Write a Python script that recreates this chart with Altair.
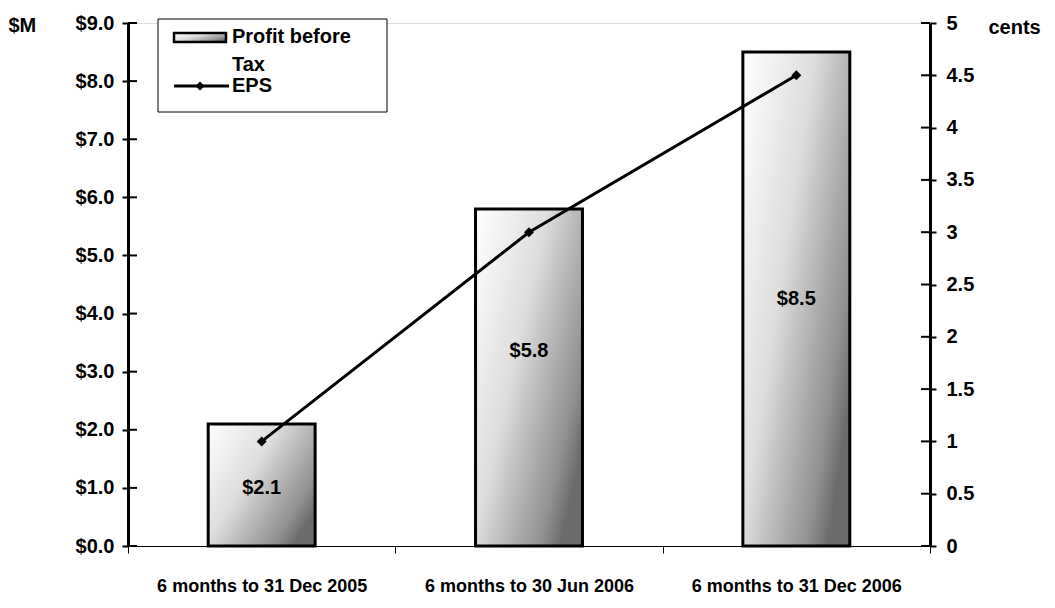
import altair as alt
import pandas as pd

categories = ["6 months to 31 Dec 2005", "6 months to 30 Jun 2006", "6 months to 31 Dec 2006"]
profit = [2.1, 5.8, 8.5]
eps = [1.0, 3.0, 4.5]
label_at = [1.0, 3.35, 4.25]
left_ticks = [0, 1, 2, 3, 4, 5, 6, 7, 8, 9]
right_ticks = [0, 0.5, 1, 1.5, 2, 2.5, 3, 3.5, 4, 4.5, 5]

df = pd.DataFrame({"period": categories, "profit": profit, "eps": eps, "label_at": label_at})
lt = pd.DataFrame({"v": left_ticks})
rt = pd.DataFrame({"v": right_ticks})
one = pd.DataFrame({"a": [0]})

W, H = 802, 523
FONT = "Liberation Sans"
FS = 20

grad = alt.LinearGradient(
    gradient="linear",
    stops=[
        alt.GradientStop(color="#ffffff", offset=0),
        alt.GradientStop(color="#dedede", offset=0.45),
        alt.GradientStop(color="#b5b5b5", offset=0.67),
        alt.GradientStop(color="#909090", offset=0.88),
        alt.GradientStop(color="#6c6c6c", offset=1),
    ],
    x1=0, y1=0, x2=1, y2=0.7,
)

xenc = alt.X(
    "period:N", sort=categories,
    scale=alt.Scale(paddingInner=0, paddingOuter=0),
    axis=alt.Axis(title=None, labelAngle=0, labelFont=FONT, labelFontSize=18, labelFontWeight="bold",
                  labelColor="black", labelPadding=24, labelBaseline="top", labelLimit=0,
                  domainColor="black", domainWidth=1, tickColor="black", tickWidth=1, tickSize=7,
                  tickBand="extent"),
)


def yleft(field):
    return alt.Y(
        field + ":Q", scale=alt.Scale(domain=[0, 9], nice=False, zero=True),
        axis=alt.Axis(values=left_ticks, format="$.1f", title="$M", titleAngle=0, titleX=-120, titleY=2,
                      titleAlign="left", titleBaseline="middle", titleFont=FONT, titleFontSize=FS,
                      titleFontWeight="bold", titleColor="black", labelFont=FONT, labelFontSize=FS,
                      labelFontWeight="bold", labelColor="black", labelPadding=8, domainColor="black",
                      domainWidth=3, tickColor="black", tickWidth=2, tickSize=6, grid=False),
    )


def yright(field):
    return alt.Y(
        field + ":Q", scale=alt.Scale(domain=[0, 5], nice=False, zero=True),
        axis=alt.Axis(values=right_ticks, format="~g", orient="right", title="cents", titleAngle=0,
                      titleX=58, titleY=4, titleAlign="left", titleBaseline="middle", titleFont=FONT,
                      titleFontSize=FS, titleFontWeight="bold", titleColor="black", labelFont=FONT,
                      labelFontSize=FS, labelFontWeight="bold", labelColor="black", labelPadding=10,
                      domainColor="black", domainWidth=3, tickColor="black", tickWidth=2, tickSize=6,
                      grid=False),
    )


bars = alt.Chart(df).mark_bar(fill=grad, stroke="black", strokeWidth=3,
                              width=alt.RelativeBandSize(0.4)).encode(x=xenc, y=yleft("profit"))
labels = alt.Chart(df).mark_text(font=FONT, fontSize=FS, fontWeight="bold", color="black", baseline="middle").encode(
    x=xenc, y=yleft("label_at"), text=alt.Text("profit:Q", format="$.1f"))
lin = alt.Chart(lt).mark_rule(color="black", strokeWidth=2).encode(y=yleft("v"), x=alt.value(0), x2=alt.value(9))
left = alt.layer(bars, labels, lin)

line = alt.Chart(df).mark_line(color="black", strokeWidth=3).encode(x=xenc, y=yright("eps"))
pts = alt.Chart(df).mark_point(shape="diamond", filled=True, color="black", size=100, opacity=1).encode(
    x=xenc, y=yright("eps"))
rin = alt.Chart(rt).mark_rule(color="black", strokeWidth=2).encode(y=yright("v"), x=alt.value(W - 9), x2=alt.value(W))
right = alt.layer(line, pts, rin)

base1 = alt.Chart(one)
box = base1.mark_rect(fill="white", stroke="black", strokeWidth=1).encode(
    x=alt.value(30), x2=alt.value(259), y=alt.value(-4), y2=alt.value(89))
swatch = base1.mark_rect(fill=grad, stroke="black", strokeWidth=2.5).encode(
    x=alt.value(46), x2=alt.value(98), y=alt.value(10), y2=alt.value(19))
t1 = base1.mark_text(text="Profit before", font=FONT, fontSize=FS, fontWeight="bold", color="black",
                     align="left", baseline="middle").encode(x=alt.value(104), y=alt.value(14))
t2 = base1.mark_text(text="Tax", font=FONT, fontSize=FS, fontWeight="bold", color="black",
                     align="left", baseline="middle").encode(x=alt.value(104), y=alt.value(42))
t3 = base1.mark_text(text="EPS", font=FONT, fontSize=FS, fontWeight="bold", color="black",
                     align="left", baseline="middle").encode(x=alt.value(104), y=alt.value(63))
lgline = base1.mark_rule(color="black", strokeWidth=3).encode(
    x=alt.value(46), x2=alt.value(101), y=alt.value(63))
lgpt = base1.mark_point(shape="diamond", filled=True, color="black", size=80, opacity=1).encode(
    x=alt.value(72), y=alt.value(63))
legend = alt.layer(box, swatch, t1, t2, t3, lgline, lgpt)

chart = alt.layer(left, right, legend).resolve_scale(y="independent").properties(
    width=W, height=H,
    padding={"left": 120, "top": 15, "right": 117, "bottom": 54},
    autosize=alt.AutoSizeParams(type="none"),
).configure_view(stroke=None).configure(background="white")

chart.save("out.html", embed_options={"renderer": "svg", "actions": False})
